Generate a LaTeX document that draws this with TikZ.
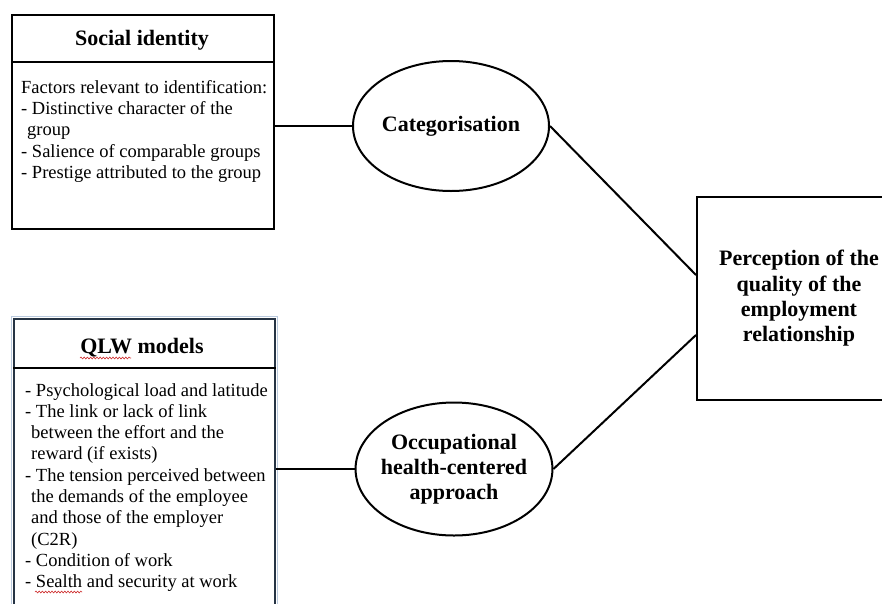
\documentclass[tikz,border=0pt]{standalone}
\usepackage{fontspec}
\setmainfont{Liberation Serif}
\usetikzlibrary{positioning,shapes.geometric,decorations.pathmorphing}

\definecolor{qlwline}{RGB}{38,52,68}
\definecolor{qlwhalo}{RGB}{186,202,222}
\definecolor{spellred}{RGB}{205,40,40}

\tikzset{
  box/.style={draw, line width=2pt, inner sep=0pt},
  headtext/.style={font=\fontsize{22}{25.3}\selectfont\bfseries, align=center},
  bodytext/.style={font=\fontsize{18.5}{21.3}\selectfont, align=left, inner sep=0pt, anchor=north west},
  oval/.style={draw, ellipse, line width=2pt, minimum width=196pt, minimum height=130pt,
    inner sep=0pt, font=\fontsize{22}{25.3}\selectfont\bfseries, align=center},
  link/.style={line width=2pt},
  squiggle/.style={spellred, line width=0.6pt, decorate,
    decoration={snake, amplitude=0.9pt, segment length=3.2pt}}
}

\begin{document}
\begin{tikzpicture}[x=1pt,y=-1pt]
    \useasboundingbox[fill=white] (0,0) rectangle (882,603);

    % social identity box
    \node[box, anchor=north west, minimum width=262pt, minimum height=214pt] (social) at (11,14) {};
    \draw[link] ([yshift=-48pt]social.north west) -- ([yshift=-48pt]social.north east);
    \node[headtext] (socialhead) at (142,40) {Social identity};
    \node[bodytext] (socialbody) at (21,80) {Factors relevant to identification:\\
        - Distinctive character of the\\
        \hspace*{6pt}group\\
        - Salience of comparable groups\\
        - Prestige attributed to the group};

    % QLW box
    \node[box, draw=qlwline, anchor=north west, minimum width=261pt, minimum height=300pt] (qlw) at (13,318) {};
    \draw[qlwhalo, line width=1pt] ([shift={(-1.5pt,1.5pt)}]qlw.north west) rectangle ([shift={(1.5pt,-1.5pt)}]qlw.south east);
    \draw[link] ([yshift=-50pt]qlw.north west) -- ([yshift=-50pt]qlw.north east);
    \node[headtext] (qlwhead) at (142,348) {QLW models};
    \node[bodytext] (qlwbody) at (25,383) {- Psychological load and latitude\\
        - The link or lack of link\\
        \hspace*{6pt}between the effort and the\\
        \hspace*{6pt}reward (if exists)\\
        - The tension perceived between\\
        \hspace*{6pt}the demands of the employee\\
        \hspace*{6pt}and those of the employer\\
        \hspace*{6pt}(C2R)\\
        - Condition of work\\
        - Sealth and security at work};
    \draw[squiggle] (80,358) -- (131,358);
    \draw[squiggle] (35,592) -- (82,592);

    % ellipses
    \node[oval] (cat) at (451,126) {Categorisation};
    \node[oval, inner sep=-3.5pt, minimum height=133pt] (occ) at (454,469) {Occupational\\health-centered\\approach};

    % perception box
    \node[box, minimum width=204pt, minimum height=203pt, headtext] (perc) at (799,298.5)
        {Perception of the\\quality of the\\employment\\relationship};

    \coordinate (percin1) at ([yshift=23.5pt]perc.west);
    \coordinate (percin2) at ([yshift=-36.5pt]perc.west);

    % connectors
    \draw[link] (cat.west -| social.east) -- (cat.west);
    \draw[link] (occ.west -| qlw.east) -- (occ.west);
    \draw[link] (cat.east) -- (percin1);
    \draw[link] (occ.east) -- (percin2);
\end{tikzpicture}
\end{document}
